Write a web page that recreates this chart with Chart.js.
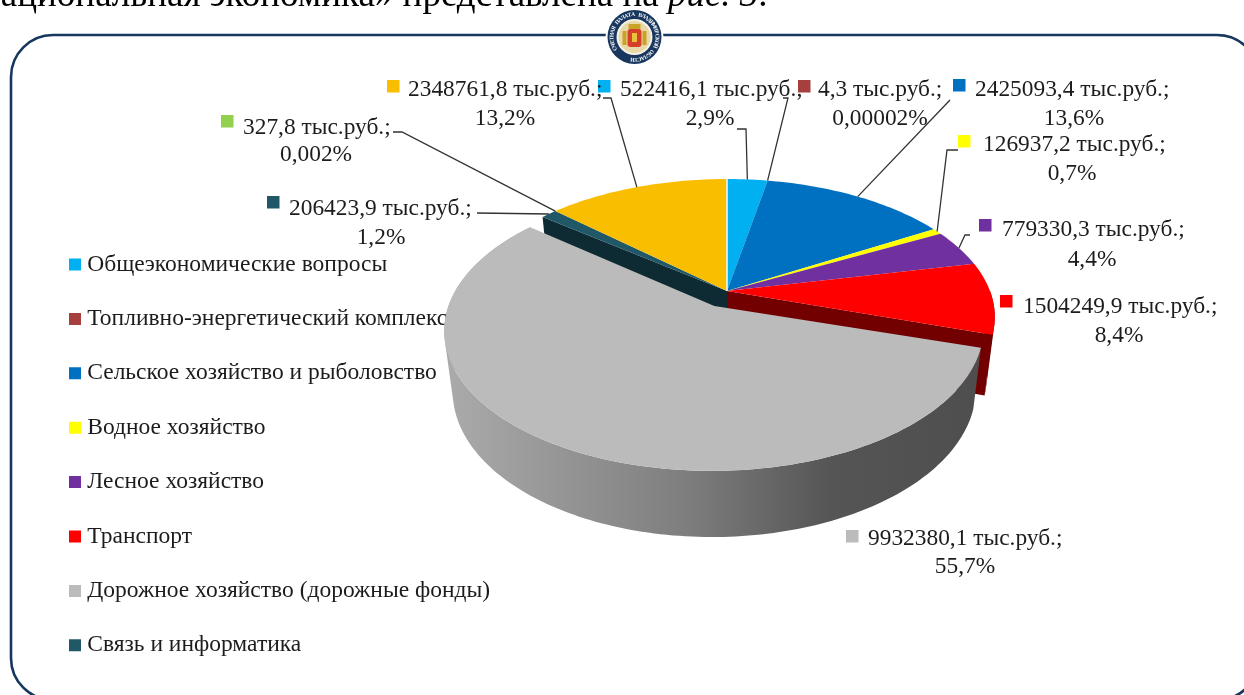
<!DOCTYPE html>
<html><head><meta charset="utf-8">
<style>html,body{margin:0;padding:0;background:#fff;overflow:hidden}canvas{display:block}</style>
<script src="https://cdn.jsdelivr.net/npm/chart.js@4"></script>
</head><body><canvas id="c" width="1244" height="695"></canvas>
<script>
const categories = ["Общеэкономические вопросы","Топливно-энергетический комплекс","Сельское хозяйство и рыболовство","Водное хозяйство","Лесное хозяйство","Транспорт","Дорожное хозяйство (дорожные фонды)","Связь и информатика","Прикладные научные исследования","Другие вопросы"];
const values = [522416.1,4.3,2425093.4,126937.2,779330.3,1504249.9,9932380.1,206423.9,327.8,2348761.8];
const percents = ["2,9%","0,00002%","13,6%","0,7%","4,4%","8,4%","55,7%","1,2%","0,002%","13,2%"];
const colors = ["#00B0F0","#A5403E","#0070C0","#FFFF00","#7030A0","#FF0000","#BBBBBB","#215868","#92D050","#FABE00"];
const explode = [0,0,0,0,0,0,0.1,0,0,0];
const legendCount = 8;
const unitLabel = " тыс.руб.;";

// Placement of the annotations (not data): square x,y, text x, line-1 y, percent centre x, line-2 y, leader elbow points
const labelLayout = [
 {sx:598,sy:80,tx:620,ty:89.5,px:710,py:118.5,leader:[[737,129],[746,129]]},
 {sx:798,sy:80,tx:818,ty:89.5,px:880,py:118.5,leader:[[783,98],[788,98]]},
 {sx:953,sy:79,tx:975,ty:89.5,px:1074,py:118.5,leader:[[950,100]]},
 {sx:958,sy:135,tx:983,ty:144.5,px:1072,py:173.5,leader:[[958,150],[947,150]]},
 {sx:979,sy:219,tx:1002,ty:229.5,px:1092,py:260,leader:[[970,235],[965,235]]},
 {sx:1000,sy:295,tx:1023,ty:306.5,px:1119,py:335.5,leader:null},
 {sx:846,sy:530,tx:868,ty:538.5,px:965,py:566.5,leader:null},
 {sx:267,sy:196,tx:289,ty:208.5,px:381,py:237.5,leader:[[477,213]]},
 {sx:221,sy:115,tx:243,ty:127.5,px:316,py:154.5,leader:[[393,132],[402,132]]},
 {sx:387,sy:80,tx:408,ty:89.5,px:505,py:118.5,leader:[[603,98],[611,98]]}
];

const G = {ax:727, ay:291, R:263, S:133, k:0.188, depthX:0.97, depthY:1.04, depth:59, apexDrop:3};
const SERIF = '"Liberation Serif","Times New Roman",serif';

function project(u,v){ const d = 1 - G.k*v; return [G.ax + G.R*u/d, G.ay + G.S*v/d]; }
function lower(p){ return [G.ax + (p[0]-G.ax)*G.depthX, G.ay + (p[1]-G.ay)*G.depthY + G.depth]; }
function sliceGeom(arc,i){
  const a0 = arc.startAngle, a1 = arc.endAngle, e = explode[i], m = (a0+a1)/2;
  const ox = Math.cos(m)*e, oy = Math.sin(m)*e, rr = e ? 0.99 : 1;
  const n = Math.max(2, Math.ceil((a1-a0)/0.02));
  const rim = [], front = [];
  for(let j=0;j<=n;j++){
    const a = a0+(a1-a0)*j/n, p = project(Math.cos(a)*rr+ox, Math.sin(a)*rr+oy);
    rim.push(p);
    if(e || Math.sin(a)>0) front.push(p);
  }
  const apex = project(ox,oy);
  if(e) apex[1] += G.apexDrop;
  return {apex, rim, front};
}
function poly(ctx,pts,fill){ ctx.beginPath(); pts.forEach((p,i)=> i?ctx.lineTo(p[0],p[1]):ctx.moveTo(p[0],p[1])); ctx.closePath(); ctx.fillStyle=fill; ctx.fill(); }
function shade(hex,f){ const n=parseInt(hex.slice(1),16); return `rgb(${(n>>16&255)*f|0},${(n>>8&255)*f|0},${(n&255)*f|0})`; }

function drawSlice(ctx,arc,i){
  const g = sliceGeom(arc,i);
  if(g.front.length>1){
    let fill = shade(colors[i],0.45);
    if(explode[i]){
      const xs = g.rim.map(p=>p[0]);
      const lg = ctx.createLinearGradient(Math.min(...xs),0,Math.max(...xs),0);
      lg.addColorStop(0,"#ABABAB"); lg.addColorStop(0.45,"#7E7E7E"); lg.addColorStop(0.72,"#555555"); lg.addColorStop(1,"#4E4E4E");
      fill = lg;
    }
    // the wall: top rim and bottom rim, plus one path of strips so the silhouette stays closed without seams
    ctx.beginPath();
    for(let j=0;j<g.front.length-1;j++){
      const a=g.front[j], b=g.front[j+1], c=lower(b), d=lower(a);
      const cross=(b[0]-a[0])*(c[1]-a[1])-(b[1]-a[1])*(c[0]-a[0]);
      const q = cross>=0 ? [a,b,c,d] : [a,d,c,b];
      q.forEach((p,k)=> k?ctx.lineTo(p[0],p[1]):ctx.moveTo(p[0],p[1]));
      ctx.closePath();
    }
    ctx.fillStyle=fill; ctx.fill("nonzero");
  }
  const first = g.rim[0], last = g.rim[g.rim.length-1];
  if(i===5) poly(ctx,[g.apex,last,lower(last),lower(g.apex)],"#720000");
  if(i===7) poly(ctx,[g.apex,first,lower(first),lower(g.apex)],"#0E2A33");
  poly(ctx,[g.apex].concat(g.rim),colors[i]);
}

const scene = {
  id:"scene",
  beforeDraw(chart){
    const ctx = chart.ctx;
    ctx.save();
    ctx.fillStyle="#fff"; ctx.fillRect(0,0,1244,695);
    ctx.fillStyle="#000"; ctx.textBaseline="alphabetic"; ctx.textAlign="left";
    ctx.font="37px "+SERIF;
    const t1="национальная экономика» представлена на "; const t2="рис. 3"; const t3=".";
    let x=-19; ctx.fillText(t1,x,6); x+=ctx.measureText(t1).width;
    ctx.font="italic 37px "+SERIF; ctx.fillText(t2,x,6); x+=ctx.measureText(t2).width;
    ctx.font="37px "+SERIF; ctx.fillText(t3,x,6);
    ctx.beginPath(); ctx.roundRect(11,35,1248,665,42);
    ctx.lineWidth=2.6; ctx.strokeStyle="#17375E"; ctx.stroke();
    ctx.restore();
  },
  afterLayout(chart){ const l=chart.legend; if(l){ l.left=43.6; l.top=221.85; l.right=1000; l.bottom=1000; } },
  beforeDatasetsDraw(chart){
    const ctx = chart.ctx, arcs = chart.getDatasetMeta(0).data;
    ctx.save();
    const order = arcs.map((a,i)=>i).sort((p,q)=>explode[p]-explode[q]);
    order.forEach(i=>drawSlice(ctx,arcs[i],i));
    const top = sliceGeom(arcs[0],0);
    ctx.beginPath(); ctx.moveTo(top.apex[0],top.apex[1]); ctx.lineTo(top.rim[0][0],top.rim[0][1]);
    ctx.strokeStyle="#F4F6E8"; ctx.lineWidth=1.6; ctx.stroke();
    ctx.restore();
    return false;
  },
  afterDraw(chart){
    const ctx = chart.ctx, arcs = chart.getDatasetMeta(0).data;
    ctx.save();
    ctx.strokeStyle="#333"; ctx.lineWidth=1.3;
    labelLayout.forEach((L,i)=>{
      if(!L.leader) return;
      const m=(arcs[i].startAngle+arcs[i].endAngle)/2, end=project(Math.cos(m),Math.sin(m));
      ctx.beginPath(); L.leader.forEach((p,j)=> j?ctx.lineTo(p[0],p[1]):ctx.moveTo(p[0],p[1])); ctx.lineTo(end[0],end[1]); ctx.stroke();
    });
    ctx.font="23.4px "+SERIF; ctx.textBaseline="middle";
    labelLayout.forEach((L,i)=>{
      const txt=values[i].toFixed(1).replace(".",",")+unitLabel;
      ctx.fillStyle="#1c1c1c"; ctx.textAlign="left"; ctx.fillText(txt,L.tx,L.ty);
      ctx.textAlign="center"; ctx.fillText(percents[i],L.px,L.py);
      ctx.fillStyle=colors[i]; ctx.fillRect(L.sx,L.sy,12.5,12.5);
    });
    drawSeal(ctx,634.5,37,27);
    ctx.restore();
  }
};
function drawSeal(ctx,cx,cy,r){
  const disc=(rad,c)=>{ctx.beginPath();ctx.arc(cx,cy,rad,0,Math.PI*2);ctx.fillStyle=c;ctx.fill();};
  disc(r+2,"#fff"); disc(r,"#17375E"); disc(r-9,"#F6F3E6"); disc(r-11,"#E8D9A8");
  ctx.fillStyle="#C9A227"; ctx.fillRect(cx-12,cy-6,4,14); ctx.fillRect(cx+8,cy-6,4,14);
  ctx.fillStyle="#C9A227"; ctx.fillRect(cx-6,cy-13,12,5);
  ctx.fillStyle="#D6402B"; ctx.beginPath(); ctx.roundRect(cx-7,cy-8,14,18,3); ctx.fill();
  ctx.fillStyle="#E8C23A"; ctx.fillRect(cx-2.5,cy-4,5,9);
  const s="СЧЕТНАЯ ПАЛАТА ВЛАДИМИРСКОЙ ОБЛАСТИ";
  ctx.fillStyle="#fff"; ctx.font="bold 5.5px "+SERIF; ctx.textAlign="center"; ctx.textBaseline="middle";
  const start=-Math.PI*1.17, step=(Math.PI*1.75)/s.length;
  [...s].forEach((ch,i)=>{ const a=start+i*step; ctx.save(); ctx.translate(cx+Math.cos(a)*(r-4.5),cy+Math.sin(a)*(r-4.5)); ctx.rotate(a+Math.PI/2); ctx.fillText(ch,0,0); ctx.restore(); });
}

new Chart(document.getElementById("c"),{
  type:"pie",
  data:{labels:categories,datasets:[{data:values,backgroundColor:colors,borderWidth:0}]},
  plugins:[scene],
  options:{
    responsive:false, animation:false, devicePixelRatio:1,
    plugins:{
      tooltip:{enabled:false},
      legend:{
        position:"left", align:"start",
        labels:{
          color:"#1c1c1c", font:{family:SERIF,size:23.5}, boxWidth:1, boxHeight:1, padding:30.9,
          generateLabels(chart){
            return categories.slice(0,legendCount).map((t,i)=>({text:t,fillStyle:colors[i],strokeStyle:colors[i],lineWidth:11,hidden:false,index:i,fontColor:"#1c1c1c"}));
          }
        }
      }
    }
  }
});
</script></body></html>
